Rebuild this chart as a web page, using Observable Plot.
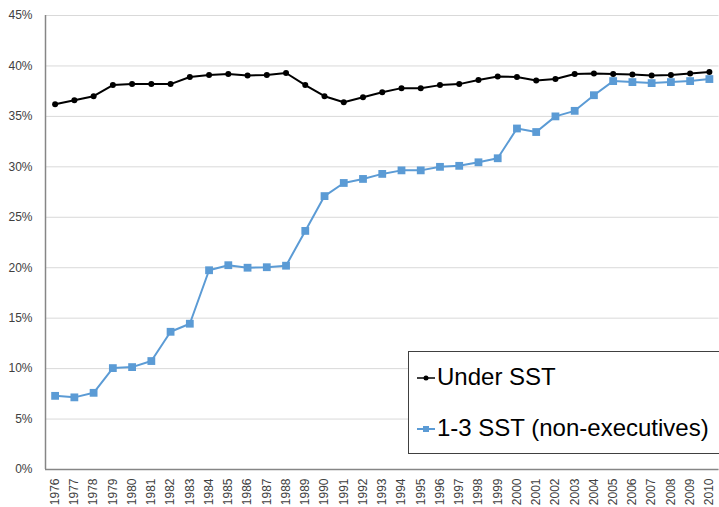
<!DOCTYPE html>
<html>
<head>
<meta charset="utf-8">
<script src="https://cdn.jsdelivr.net/npm/d3@7"></script>
<script src="https://cdn.jsdelivr.net/npm/@observablehq/plot@0.6"></script>
<style>
  body { margin: 0; background: #fff; }
  #wrap { position: relative; width: 719px; height: 507px; overflow: hidden; font-family: "Liberation Sans", Arial, sans-serif; }
  #legend { position: absolute; left: 408px; top: 351px; width: 340px; height: 101px; border: 1px solid #404040; background: #fff; }
  .row { position: absolute; left: 0; height: 30px; line-height: 30px; font-size: 24px; color: #000; white-space: nowrap; }
  .row svg { position: absolute; left: 7px; top: 0; }
  .row span { position: absolute; left: 28px; top: 0; }
</style>
</head>
<body>
<div id="wrap">
  <div id="chart"></div>
  <div id="legend">
    <div class="row" style="top:10px">
      <svg width="20" height="30"><line x1="1" x2="19" y1="16" y2="16" stroke="#000" stroke-width="1.5"/><circle cx="10" cy="16" r="2.5" fill="#000"/></svg>
      <span>Under SST</span>
    </div>
    <div class="row" style="top:61px">
      <svg width="20" height="30"><line x1="1" x2="19" y1="16" y2="16" stroke="#5b9bd5" stroke-width="2"/><rect x="7" y="13" width="6" height="6" fill="#5b9bd5"/></svg>
      <span>1-3 SST (non-executives)</span>
    </div>
  </div>
</div>
<script>
const years = d3.range(1976, 2011);
const underSST = [36.2, 36.6, 37.0, 38.1, 38.2, 38.2, 38.2, 38.9, 39.1, 39.2, 39.05, 39.1, 39.3, 38.1, 37.0, 36.4,
  36.9, 37.4, 37.8, 37.8, 38.1, 38.2, 38.6, 38.95, 38.9, 38.55, 38.7, 39.2, 39.25, 39.2, 39.15, 39.05, 39.1, 39.25, 39.4];
const sst13 = [7.3, 7.15, 7.6, 10.05, 10.15, 10.75, 13.65, 14.45, 19.75, 20.25, 20.0, 20.05, 20.2, 23.65, 27.1, 28.4,
  28.8, 29.3, 29.65, 29.65, 30.0, 30.1, 30.45, 30.85, 33.8, 33.45, 35.0, 35.55, 37.1, 38.5, 38.4, 38.3, 38.4, 38.5, 38.7];
const yTicks = d3.range(0, 46, 5);

const dataA = years.map((y, i) => ({year: y, v: underSST[i]}));
const dataB = years.map((y, i) => ({year: y, v: sst13[i]}));

const chart = Plot.plot({
  width: 719,
  height: 507,
  marginLeft: 45,
  marginRight: 0.5,
  marginTop: 15,
  marginBottom: 38,
  style: {fontFamily: '"Liberation Sans", Arial, sans-serif', fontSize: "12px", color: "#404040", background: "#fff"},
  x: {type: "linear", domain: [1975.5, 2010.5]},
  y: {domain: [0, 45]},
  marks: [
    Plot.gridY(yTicks, {stroke: "#d9d9d9", strokeOpacity: 1, strokeWidth: 1}),
    Plot.axisY({ticks: yTicks, tickFormat: d => d + "%", tickSize: 0, tickPadding: 13, label: null, fill: "#404040"}),
    Plot.axisX({ticks: years, tickFormat: d => String(d), tickRotate: -90, tickSize: 0, tickPadding: 9, label: null, fill: "#404040"}),
    Plot.ruleY([0], {stroke: "#868686", strokeWidth: 1.5}),
    Plot.ruleX([1975.5], {stroke: "#868686", strokeWidth: 1.5}),
    Plot.line(dataA, {x: "year", y: "v", stroke: "#000", strokeWidth: 2}),
    Plot.dot(dataA, {x: "year", y: "v", r: 3, fill: "#000", stroke: "none"}),
    Plot.line(dataB, {x: "year", y: "v", stroke: "#5b9bd5", strokeWidth: 2}),
    Plot.dot(dataB, {x: "year", y: "v", symbol: "square", r: 4.4, fill: "#5b9bd5", stroke: "none"})
  ]
});
document.getElementById("chart").appendChild(chart);
</script>
</body>
</html>
